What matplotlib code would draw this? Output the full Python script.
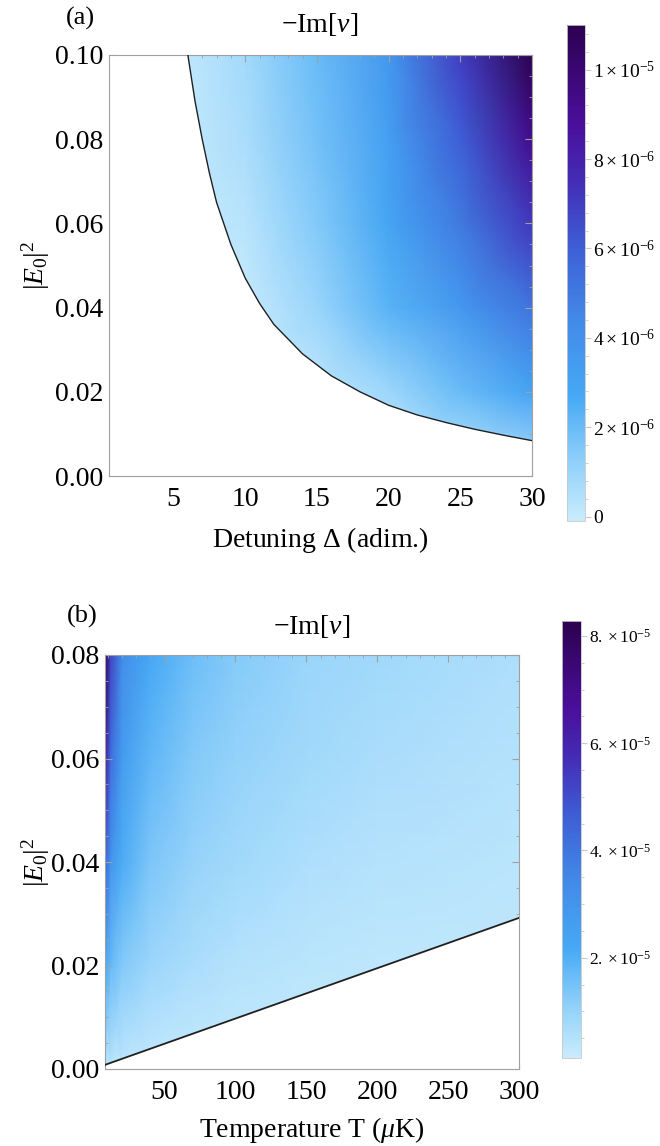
import numpy as np
import matplotlib
matplotlib.use("Agg")
import matplotlib.pyplot as plt
from matplotlib.colors import LinearSegmentedColormap
from matplotlib.ticker import MultipleLocator, FixedLocator

plt.rcParams['font.family'] = ['Liberation Serif', 'DejaVu Serif']
plt.rcParams['mathtext.fontset'] = 'custom'
plt.rcParams['mathtext.rm'] = 'Liberation Serif'
plt.rcParams['mathtext.it'] = 'Liberation Serif:italic'
plt.rcParams['mathtext.bf'] = 'Liberation Serif:bold'

# ---- panel (a): -Im[nu] vs detuning and |E0|^2 (values in 1e-6) ----
a_x = [0.5, 5, 10, 15, 20, 25, 30]
a_y = [0.0, 0.02, 0.04, 0.06, 0.08, 0.10]
a_val = [
    [0.0, 0.0, 0.0, 0.0, 0.0, 0.0, 0.3],
    [0.0, 0.0, 0.0, 0.2, 0.9, 2.0, 3.0],
    [0.0, 0.0, 0.0, 1.0, 2.3, 3.6, 5.2],
    [0.0, 0.0, 0.3, 1.5, 2.9, 5.0, 7.2],
    [0.0, 0.0, 0.6, 1.8, 3.2, 6.0, 9.2],
    [0.0, 0.0, 0.8, 2.0, 3.6, 7.0, 11.0],
]
# boundary of the unstable region
a_bx = [6, 6.5, 7, 7.5, 8, 9, 10, 11, 12, 14, 16, 18, 20, 22, 24, 26, 28, 30]
a_by = [0.100, 0.089, 0.080, 0.072, 0.065, 0.055, 0.047, 0.041, 0.036,
        0.029, 0.0238, 0.0200, 0.0168, 0.0145, 0.0127, 0.0111, 0.0097, 0.0084]

# ---- panel (b): -Im[nu] vs temperature and |E0|^2 (values in 1e-5) ----
b_x = [8, 12, 20, 40, 70, 100, 150, 200, 300]
b_y = [0.0, 0.02, 0.04, 0.06, 0.08]
b_val = [
    [0.4, 0.35, 0.3, 0.25, 0.2, 0.2, 0.2, 0.2, 0.2],
    [2.2, 1.7, 1.3, 0.9, 0.65, 0.5, 0.4, 0.35, 0.3],
    [4.5, 3.0, 2.1, 1.4, 1.0, 0.8, 0.6, 0.5, 0.4],
    [6.5, 4.2, 2.7, 1.8, 1.3, 1.05, 0.8, 0.65, 0.5],
    [8.3, 5.2, 3.3, 2.2, 1.6, 1.25, 0.95, 0.8, 0.6],
]
b_bx = [8, 300]
b_by = [0.0008, 0.0292]

cmap = LinearSegmentedColormap.from_list('deepsea_r', [
    (0.00, '#c9ecfd'), (0.12, '#8fd0fa'), (0.25, '#46a9f5'),
    (0.40, '#428be8'), (0.55, '#3e5fd6'), (0.70, '#4428b2'),
    (0.80, '#4a0f9c'), (1.00, '#2c0150')])

W, H = 660, 1146
fig = plt.figure(figsize=(W / 100, H / 100), dpi=100)


def box(l, t, r, b):
    return [l / W, 1 - b / H, (r - l) / W, (b - t) / H]


frame = '#a0a0a0'


def style(ax):
    for s in ax.spines.values():
        s.set_color(frame)
        s.set_linewidth(0.8)
    ax.tick_params(which='both', direction='in', top=True, right=True,
                   color=frame, labelsize=20, pad=4)
    ax.tick_params(axis='x', which='major', pad=8)
    ax.tick_params(which='major', length=5, width=0.8)
    ax.tick_params(which='minor', length=2.5, width=0.6)


def cbar_style(cb, major, minor, labels, size):
    cb.outline.set_edgecolor('#c8c8c8')
    cb.outline.set_linewidth(0.6)
    cb.ax.yaxis.set_major_locator(FixedLocator(major))
    cb.ax.yaxis.set_minor_locator(FixedLocator(minor))
    cb.ax.set_yticklabels(labels)
    cb.ax.tick_params(which='both', direction='out', color='#c8c8c8',
                      labelsize=size, pad=2)
    cb.ax.tick_params(which='major', length=4)
    cb.ax.tick_params(which='minor', length=2)


# ---- panel (a) ----
ax1 = fig.add_axes(box(109, 55, 532, 476))
m1 = ax1.pcolormesh(a_x, a_y, np.array(a_val) * 1e-6, shading='gouraud',
                    cmap=cmap, vmin=-0.1e-6, vmax=1.1e-5, rasterized=True)
ax1.fill([0.5] + a_bx + [30, 0.5],
         [0.1] + a_by + [0, 0], color='white', lw=0, zorder=2)
ax1.plot(a_bx, a_by, color='#202020', lw=1.0, zorder=3)
ax1.set_xlim(0.5, 30)
ax1.set_ylim(0, 0.1)
ax1.set_xticks([5, 10, 15, 20, 25, 30])
ax1.xaxis.set_minor_locator(MultipleLocator(1))
ax1.set_yticks([0, 0.02, 0.04, 0.06, 0.08, 0.10])
ax1.set_yticklabels(['0.00', '0.02', '0.04', '0.06', '0.08', '0.10'])
ax1.yaxis.set_minor_locator(MultipleLocator(0.005))
style(ax1)

cax1 = fig.add_axes(box(567, 25, 585, 521))
cb1 = fig.colorbar(m1, cax=cax1)
cbar_style(cb1, [0, 2e-6, 4e-6, 6e-6, 8e-6, 1e-5],
           list(np.arange(0, 11e-6, 0.4e-6)),
           ['0', r'$2\times10^{-6}$', r'$4\times10^{-6}$',
            r'$6\times10^{-6}$', r'$8\times10^{-6}$', r'$1\times10^{-5}$'],
           14)

# ---- panel (b) ----
ax2 = fig.add_axes(box(105, 655, 519, 1069))
m2 = ax2.pcolormesh(b_x, b_y, np.array(b_val) * 1e-5, shading='gouraud',
                    cmap=cmap, vmin=0.13e-5, vmax=8.28e-5, rasterized=True)
ax2.fill(b_bx + [300, 8], b_by + [0, 0], color='white', lw=0, zorder=2)
ax2.plot(b_bx, b_by, color='#202020', lw=1.3, zorder=3)
ax2.set_xlim(8, 300)
ax2.set_ylim(0, 0.08)
ax2.set_xticks([50, 100, 150, 200, 250, 300])
ax2.xaxis.set_minor_locator(MultipleLocator(10))
ax2.set_yticks([0, 0.02, 0.04, 0.06, 0.08])
ax2.set_yticklabels(['0.00', '0.02', '0.04', '0.06', '0.08'])
ax2.yaxis.set_minor_locator(MultipleLocator(0.005))
style(ax2)

cax2 = fig.add_axes(box(562, 621, 581, 1058))
cb2 = fig.colorbar(m2, cax=cax2)
cbar_style(cb2, [2e-5, 4e-5, 6e-5, 8e-5],
           list(np.arange(0.5e-5, 8.3e-5, 0.5e-5)),
           [r'$2.\times10^{-5}$', r'$4.\times10^{-5}$',
            r'$6.\times10^{-5}$', r'$8.\times10^{-5}$'],
           12.5)

# ---- labels ----
def ftext(x, y, s, **kw):
    fig.text(x / W, 1 - y / H, s, ha='center', va='center', **kw)


ftext(80, 18, '(a)', fontsize=19)
ftext(320, 24, r'$-\mathrm{Im}[\nu]$', fontsize=20)
ftext(320, 540, r'Detuning $\Delta$ (adim.)', fontsize=20)
ftext(36, 265, r'$|E_0|^2$', fontsize=20, rotation=90)

ftext(82, 616, '(b)', fontsize=19)
ftext(312, 626, r'$-\mathrm{Im}[\nu]$', fontsize=20)
ftext(312, 1130, r'Temperature T ($\mu$K)', fontsize=20)
ftext(36, 862, r'$|E_0|^2$', fontsize=20, rotation=90)

fig.savefig('out.png', dpi=100)
